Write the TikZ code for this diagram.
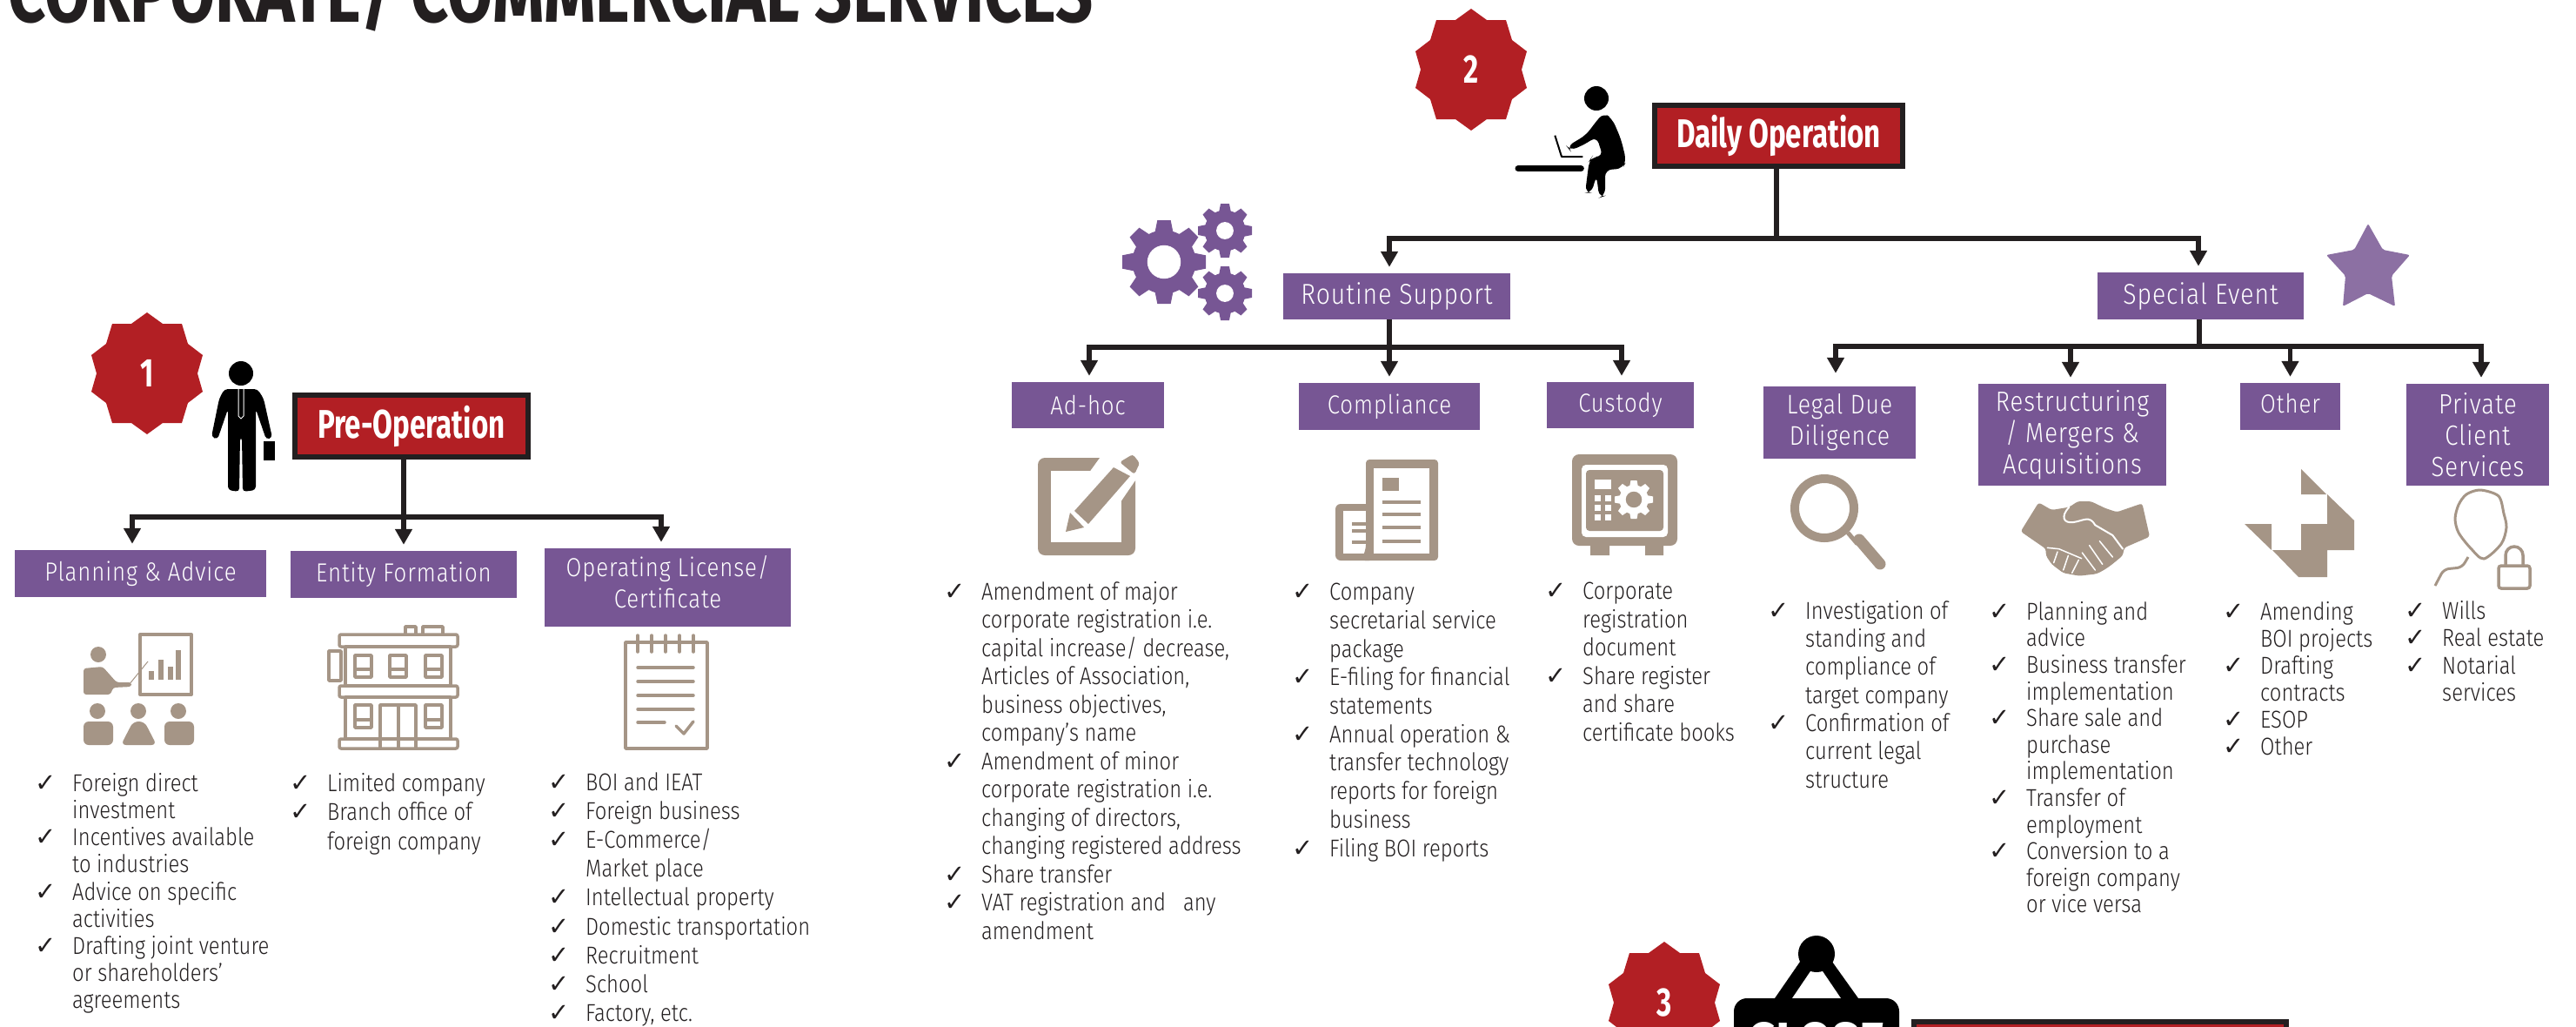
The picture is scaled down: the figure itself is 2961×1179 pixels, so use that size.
\documentclass[tikz,border=0pt]{standalone}
\usepackage{fontspec}
\usepackage{xcolor}
\usepackage{tikz}
\usetikzlibrary{arrows.meta,shapes.geometric}
\setmainfont[FakeStretch=0.85]{Fira Sans Light}
\newfontfamily\boxfont[FakeStretch=0.86,LetterSpace=3]{Fira Sans Light}
\newfontfamily\headfont[FakeStretch=0.72]{Fira Sans Bold}
\newfontfamily\titlefont[FakeStretch=0.787]{Fira Sans Bold}
\newfontfamily\closefont[FakeStretch=0.9]{Fira Sans Bold}
\newfontfamily\tickfont{DejaVu Sans}
\definecolor{serviceink}{RGB}{35,31,32}
\definecolor{servicered}{RGB}{178,31,36}
\definecolor{servicepurple}{RGB}{119,86,148}
\definecolor{servicestar}{RGB}{140,112,163}
\definecolor{servicetan}{RGB}{165,149,134}
\newcommand{\tick}{\makebox[43pt][l]{\tickfont\fontsize{29}{29}\selectfont ✓}}
\newcommand{\cont}{\hspace*{43pt}}
\tikzset{
    mainbox/.style={rectangle, draw=serviceink, line width=6pt, fill=servicered, text=white, font=\headfont\fontsize{46}{46}\selectfont, inner sep=0pt},
    subbox/.style={rectangle, fill=servicepurple, text=white, align=center, font=\boxfont\fontsize{30}{36}\selectfont, inner sep=0pt},
    bigbox/.style={subbox, font=\boxfont\fontsize{#1}{36}\selectfont},
    listbox/.style={anchor=north west, align=left, inner sep=0pt, text=serviceink, font=\fontsize{28}{#1}\selectfont},
    trunk/.style={draw=serviceink, line width=5.5pt},
    line/.style={trunk, -{Triangle[length=18pt,width=19pt]}, shorten >=7pt},
    iconline/.style={draw=servicetan, line width=3.5pt, line join=round},
    pics/badge/.style={code={
        \fill[servicered] (0,-70) -- (18,-57) -- (40,-57) -- (47,-34) -- (64,-21) -- (58,0) -- (64,21) -- (47,34) -- (40,57) -- (18,57) -- (0,70) -- (-18,57) -- (-40,57) -- (-47,34) -- (-64,21) -- (-58,0) -- (-64,-21) -- (-47,-34) -- (-40,-57) -- (-18,-57) -- cycle;
        \node[text=white, font=\headfont\fontsize{46}{46}\selectfont] (-num) at (0,0) {#1};
    }},
    pics/cog/.style n args={3}{code={
        \fill[#1] (0,0) circle (.76);
        \foreach \a in {0,45,...,315}
            \fill[#1,rotate=\a] (-.24,.6) -- (-.16,1) -- (.16,1) -- (.24,.6) -- cycle;
        \fill[#2] (0,0) circle (#3);
    }}
}
\begin{document}
\begin{tikzpicture}[x=1pt,y=-1pt]
    \path [use as bounding box,clip] (0,0) rectangle (2961,1179);

    % Title
    \node [anchor=base west, inner sep=0pt, text=serviceink, font=\titlefont\fontsize{96}{96}\selectfont] (title) at (9,25) {CORPORATE/ COMMERCIAL SERVICES};

    % Badges
    \pic (one) at (169,429) {badge=1};
    \pic (two) at (1691,80) {badge=2};
    \pic (three) at (1913,1152) {badge=3};

    % Main boxes
    \node [mainbox, minimum width=268, minimum height=71] (preop) at (473,489.5) {Pre-Operation};
    \node [mainbox, minimum width=285, minimum height=70] (daily) at (2044.5,156) {Daily Operation};
    \node [mainbox, minimum width=428, minimum height=70] (closing) at (2414,1209) {};

    % Purple boxes
    \node [subbox, minimum width=289, minimum height=54] (planning) at (161.5,659) {Planning \& Advice};
    \node [subbox, minimum width=260, minimum height=54] (entity) at (464,660) {Entity Formation};
    \node [subbox, minimum width=283, minimum height=90, text depth=14pt] (licence) at (767.5,675) {Operating License/\\Certificate};
    \node [bigbox=33, minimum width=261, minimum height=53] (routine) at (1605.5,340.5) {Routine Support};
    \node [bigbox=33, minimum width=237, minimum height=54] (special) at (2529.5,340) {Special Event};
    \node [subbox, minimum width=175, minimum height=53] (adhoc) at (1250.5,465.5) {Ad-hoc};
    \node [subbox, minimum width=208, minimum height=54] (compliance) at (1597,467) {Compliance};
    \node [subbox, minimum width=169, minimum height=53] (custody) at (1862.5,465.5) {Custody};
    \node [bigbox=31, minimum width=175, minimum height=83] (legal) at (2114.5,485.5) {Legal Due\\Diligence};
    \node [bigbox=32, minimum width=216, minimum height=117] (restructuring) at (2382,499.5) {Restructuring\\/ Mergers \&\\Acquisitions};
    \node [subbox, minimum width=115, minimum height=54, text depth=8pt] (other) at (2632.5,467) {Other};
    \node [bigbox=32, minimum width=164, minimum height=117] (private) at (2848,499.5) {Private\\Client\\Services};

    % Tree joins
    \coordinate (preopjoin) at (464,594);
    \coordinate (dailyjoin) at (2042,274);
    \coordinate (routinejoin) at (1597,399);
    \coordinate (specialjoin) at (2528,398);

    % Tree arrows
    \path [trunk] ([xshift=-9pt]preop.south) -- (preopjoin);
    \path [line] (preopjoin) -| ([xshift=-9.5pt]planning.north);
    \path [line] (preopjoin) -- (entity.north);
    \path [line] (preopjoin) -| ([xshift=-7.5pt]licence.north);

    \path [trunk] ([xshift=-2.5pt]daily.south) -- (dailyjoin);
    \path [line] (dailyjoin) -| ([xshift=-8.5pt]routine.north);
    \path [line] (dailyjoin) -| ([xshift=-2.5pt]special.north);

    \path [trunk] ([xshift=-8.5pt]routine.south) -- (routinejoin);
    \path [line] (routinejoin) -| ([xshift=1.5pt]adhoc.north);
    \path [line] (routinejoin) -- (compliance.north);
    \path [line] (routinejoin) -| ([xshift=1.5pt]custody.north);

    \path [trunk] ([xshift=-1.5pt]special.south) -- (specialjoin);
    \path [line, shorten >=15pt] (specialjoin) -| ([xshift=-4.5pt]legal.north);
    \path [line] (specialjoin) -| ([xshift=-2pt]restructuring.north);
    \path [line] (specialjoin) -| (other.north);
    \path [line] (specialjoin) -| ([xshift=4pt]private.north);

    % Lists
    \node [listbox=31.2] (planninglist) at (40,888) {\tick Foreign direct\\\cont investment\\\tick Incentives available\\\cont to industries\\\tick Advice on specific\\\cont activities\\\tick Drafting joint venture\\\cont or shareholders'\\\cont agreements};
    \node [listbox=33.5] (entitylist) at (333,888) {\tick Limited company\\\tick Branch office of\\\cont foreign company};
    \node [listbox=33.2] (licencelist) at (630,887) {\tick BOI and IEAT\\\tick Foreign business\\\tick E-Commerce/\\\cont Market place\\\tick Intellectual property\\\tick Domestic transportation\\\tick Recruitment\\\tick School\\\tick Factory, etc.};
    \node [listbox=32.5] (adhoclist) at (1085,668) {\tick Amendment of major\\\cont corporate registration i.e.\\\cont capital increase/ decrease,\\\cont Articles of Association,\\\cont business objectives,\\\cont company's name\\\tick Amendment of minor\\\cont corporate registration i.e.\\\cont changing of directors,\\\cont changing registered address\\\tick Share transfer\\\tick VAT registration and \ \ any\\\cont amendment};
    \node [listbox=32.7] (compliancelist) at (1485,670) {\tick Company\\\cont secretarial service\\\cont package\\\tick E-filing for financial\\\cont statements\\\tick Annual operation \&\\\cont transfer technology\\\cont reports for foreign\\\cont business\\\tick Filing BOI reports};
    \node [listbox=32.5] (custodylist) at (1776,669) {\tick Corporate\\\cont registration\\\cont document\\\tick Share register\\\cont and share\\\cont certificate books};
    \node [listbox=32.3] (legallist) at (2032,690) {\tick Investigation of\\\cont standing and\\\cont compliance of\\\cont target company\\\tick Confirmation of\\\cont current legal\\\cont structure};
    \node [listbox=30.6] (restructuringlist) at (2286,691) {\tick Planning and\\\cont advice\\\tick Business transfer\\\cont implementation\\\tick Share sale and\\\cont purchase\\\cont implementation\\\tick Transfer of\\\cont employment\\\tick Conversion to a\\\cont foreign company\\\cont or vice versa};
    \node [listbox=31] (otherlist) at (2555,691) {\tick Amending\\\cont BOI projects\\\tick Drafting\\\cont contracts\\\tick ESOP\\\tick Other};
    \node [listbox=31.5] (privatelist) at (2764,690) {\tick Wills\\\tick Real estate\\\tick Notarial\\\cont services};

    % Standing man
    \fill (277,429) circle (14);
    \fill [rounded corners=4pt] (258,447) -- (296,447) -- (303,458) -- (313,503) -- (306,505) -- (294,470) -- (294,563) -- (279,565) -- (278,502) -- (276,502) -- (275,565) -- (262,563) -- (262,470) -- (250,505) -- (243,502) -- (252,458) -- cycle;
    \draw [white, line width=1pt] (274,445) -- (274,478) -- (277,481) -- (280,478) -- (280,445);
    \fill (303,507) rectangle (316,529);

    % Sitting man
    \fill (1835,113) circle (14);
    \begin{scope}[shift={(1730,90)},scale=1/3]
        \fill [rounded corners=8pt] (305,160) -- (340,118) -- (370,140) -- (400,210) -- (418,285) -- (405,312) -- (345,315) -- (345,405) -- (325,412) -- (315,335) -- (298,395) -- (276,395) -- (290,285) -- (300,270) -- (338,270) -- (315,200) -- (285,222) -- (225,250) -- (213,235) -- (280,195) -- cycle;
        \draw [line width=2pt, line join=round] (172,197) -- (195,270) -- (268,270);
        \draw [line width=7pt, line cap=round] (45,311) -- (262,311);
    \end{scope}

    % Gears and star
    \pic [scale=48] at (1338,301) {cog={servicepurple}{white}{.4}};
    \pic [scale=31] at (1408,265) {cog={servicepurple}{white}{.32}};
    \pic [scale=31] at (1408,337) {cog={servicepurple}{white}{.32}};
    \fill [servicestar, rounded corners=2pt] (2722,257) -- (2739,287) -- (2770,293) -- (2749,317) -- (2753,352) -- (2722,337) -- (2693,352) -- (2696,317) -- (2674,293) -- (2706,287) -- cycle;

    % Presenter icon
    \draw [iconline, line width=4pt] (161,729) rectangle (220,798);
    \foreach \x/\y in {171/771,182/758,193/766,202/747}
        \fill [servicetan] (\x,\y) rectangle (\x+6,781);
    \fill [servicetan] (113,752) circle (9);
    \fill [servicetan, rounded corners=3pt] (96,798) -- (96,768) -- (118,766) -- (134,784) -- (151,784) -- (151,789) -- (130,790) -- (127,798) -- cycle;
    \draw [servicetan, line width=1pt] (148,787) -- (170,760);
    \foreach \x in {112,159,205}
        \fill [servicetan] (\x,817) circle (9);
    \fill [servicetan, rounded corners=6pt] (96,856) -- (96,829) -- (130,829) -- (130,856) -- cycle;
    \fill [servicetan, rounded corners=6pt] (139,856) -- (153,829) -- (166,829) -- (180,856) -- cycle;
    \fill [servicetan, rounded corners=6pt] (189,856) -- (189,829) -- (223,829) -- (223,856) -- cycle;

    % Building icon
    \draw [iconline] (466,729) -- (466,720) -- (478,720) -- (478,729) (486,729) -- (486,720) -- (509,720) -- (509,729);
    \draw [iconline, rounded corners=2pt] (390,729) rectangle (526,743);
    \draw [iconline] (397,743) rectangle (518,788);
    \draw [iconline] (378,748) rectangle (392,782);
    \draw [iconline, rounded corners=2pt] (390,788) rectangle (526,801);
    \draw [iconline] (397,801) rectangle (518,849);
    \draw [iconline, rounded corners=2pt] (390,849) rectangle (526,860);
    \foreach \x in {408,448,489}
        \draw [iconline] (\x,753) rectangle (\x+19,778) (\x,769) -- (\x+19,769);
    \foreach \x in {408,489}
        \draw [iconline] (\x,810) rectangle (\x+19,836) (\x,827) -- (\x+19,827);
    \draw [iconline] (437,860) -- (437,810) -- (478,810) -- (478,860) (458,810) -- (458,860);

    % Notepad icon
    \draw [iconline] (719,738) rectangle (813,860);
    \foreach \x in {733,749,765,781,797}
        \draw [iconline, line cap=round] (\x,730) -- (\x,749);
    \foreach \y in {767,783,799,815}
        \draw [iconline, line cap=round] (733,\y) -- (797,\y);
    \draw [iconline, line cap=round] (733,830) -- (764,830);
    \draw [iconline, line cap=round] (777,834) -- (786,843) -- (797,829);

    % Edit icon
    \fill [servicetan, rounded corners=8pt] (1193,526) rectangle (1305,638);
    \fill [white] (1208,541) rectangle (1289,623);
    \fill [white] (1270,518) -- (1315,518) -- (1315,545) -- (1305,552) -- (1257,622) -- (1222,618) -- (1225,580) -- cycle;
    \fill [servicetan] (1235,587) -- (1280,537) -- (1299,547) -- (1251,602) -- cycle;
    \fill [servicetan] (1225,611) -- (1230,589) -- (1246,606) -- cycle;
    \fill [servicetan, rounded corners=3pt] (1287,531) -- (1302,522) -- (1310,532) -- (1304,545) -- cycle;

    % News icon
    \fill [servicetan, rounded corners=6pt] (1535,579) rectangle (1580,644);
    \fill [white] (1544,587) rectangle (1570,636);
    \fill [servicetan, rounded corners=4pt] (1570,528) -- (1653,528) -- (1653,644) -- (1565,644) -- (1570,630) -- cycle;
    \fill [white] (1579,538) rectangle (1643,636);
    \fill [servicetan] (1589,549) rectangle (1608,564);
    \foreach \y in {577,591,606,622}
        \draw [servicetan, line width=3.5pt] (1589,\y) -- (1633,\y);
    \foreach \y in {602,610,623}
        \draw [servicetan, line width=3.5pt] (1554,\y) -- (1570,\y);

    % Safe icon
    \fill [servicetan, rounded corners=8pt] (1807,522) rectangle (1928,627);
    \fill [servicetan] (1828,627) rectangle (1850,638) (1891,627) rectangle (1912,638);
    \fill [white, rounded corners=5pt] (1818,534) rectangle (1917,617);
    \fill [servicetan, rounded corners=4pt] (1823,540) rectangle (1912,610);
    \pic [scale=22] at (1878,574) {cog={white}{servicetan}{.42}};
    \fill [white] (1833,551) rectangle (1852,562);
    \foreach \x in {1833,1845}
        \foreach \y in {569,580,591}
            \fill [white] (\x,\y) rectangle (\x+7,\y+7);

    % Magnifier icon
    \draw [servicetan, line width=10pt] (2097,584) circle (34);
    \draw [servicetan, line width=5pt] (2124,612) -- (2135,625);
    \draw [servicetan, line width=13pt, line cap=round] (2137,620) -- (2161,648);

    % Handshake icon
    \begin{scope}[shift={(2300,560)},scale=1/3]
        \fill [servicetan, rounded corners=3pt] (68,152) -- (130,52) -- (175,78) -- (235,68) -- (265,48) -- (310,48) -- (360,72) -- (400,85) -- (487,55) -- (513,170) -- (425,208) -- (420,235) -- (380,268) -- (355,285) -- (330,298) -- (270,305) -- (215,295) -- (175,265) -- (155,235) -- (155,212) -- cycle;
        \draw [white, line width=2pt, line cap=round] (235,68) .. controls (205,100) and (215,125) .. (250,120) .. controls (285,115) and (305,95) .. (325,130) -- (385,165) -- (420,212);
        \draw [white, line width=1.5pt, line cap=round] (305,200) -- (350,265) (340,185) -- (385,240) (280,225) -- (325,285);
        \draw [white, line width=1.5pt, line cap=round] (160,208) -- (200,212) -- (278,245) (195,222) -- (182,260) (232,235) -- (215,285) (268,250) -- (245,295);
    \end{scope}

    % Arrow-block icon
    \fill [servicetan] (2645,539) -- (2674,568) -- (2645,568) -- cycle;
    \fill [servicetan] (2675,568) -- (2706,598) -- (2706,632) -- (2675,632) -- (2675,663) -- (2642,663) -- (2612,632) -- (2645,632) -- (2645,602) -- (2675,602) -- cycle;
    \fill [servicetan] (2580,602) -- (2611,602) -- (2611,632) -- cycle;

    % Client lock icon
    \draw [servicetan, line width=3pt] plot [smooth cycle] coordinates {(2851,563) (2872,570) (2878,590) (2881,606) (2875,625) (2855,642) (2840,630) (2826,612) (2822,596) (2826,580) (2835,568)};
    \draw [servicetan, line width=3pt, rounded corners=6pt] (2837,640) -- (2830,652) -- (2809,654) -- (2799,673);
    \draw [servicetan, line width=3.5pt, rounded corners=3pt] (2872,650) rectangle (2908,676);
    \draw [servicetan, line width=3.5pt] (2880,650) -- (2880,638) arc [start angle=180, end angle=360, x radius=10, y radius=10] -- (2900,650);

    % Closed sign
    \fill (2069,1105) -- (2040,1147) -- (2136,1147) -- (2106,1105) -- cycle;
    \fill [white] (2081,1116) -- (2060,1147) -- (2116,1147) -- (2095,1116) -- cycle;
    \fill (2088,1096) circle (21);
    \fill [rounded corners=15pt] (1993,1147) rectangle (2183,1250);
    \node [text=white, inner sep=0pt, anchor=base, font=\closefont\fontsize{62}{62}\selectfont] (closed) at (2088,1218) {CLOSE};
\end{tikzpicture}
\end{document}
